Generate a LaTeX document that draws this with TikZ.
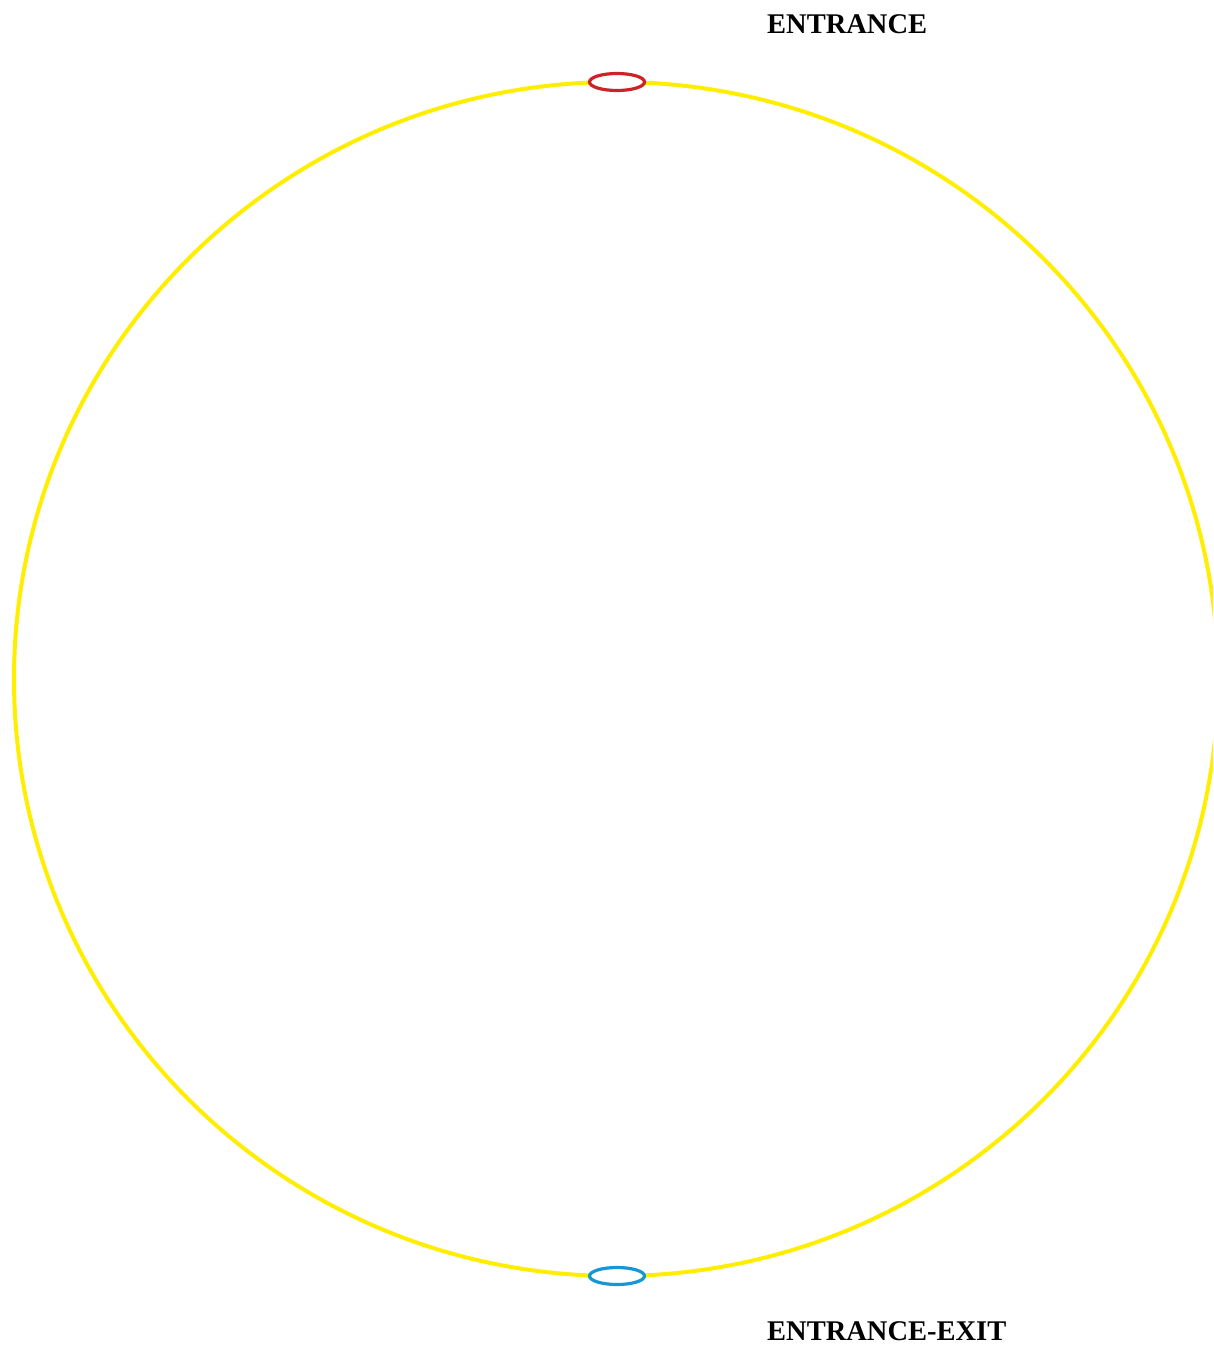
\documentclass[tikz,border=0pt]{standalone}
\usepackage{fontspec}
\setmainfont{Liberation Serif}
\definecolor{ringyellow}{RGB}{255,238,0}
\definecolor{entred}{RGB}{204,34,40}
\definecolor{exitblue}{RGB}{20,150,215}
\tikzset{
  ring/.style={draw=ringyellow, line width=4pt},
  portal/.style={line width=3.2pt, fill=none},
  label/.style={font=\bfseries\fontsize{28.5}{30}\selectfont, inner sep=0pt, anchor=base west}
}
\begin{document}
\begin{tikzpicture}[x=1pt,y=-1pt]
\useasboundingbox[fill=white] (0,0) rectangle (1213,1346);
\begin{scope}
\clip (0,0) rectangle (1213,1346);
\draw[ring] (616,679) ellipse [x radius=602, y radius=597];
\end{scope}
\coordinate (top) at (617,82);
\coordinate (bottom) at (617,1276);
\draw[portal, draw=entred, fill=white] (top) ellipse [x radius=27.5, y radius=8.5];
\draw[portal, draw=exitblue, fill=white] (bottom) ellipse [x radius=27.5, y radius=8.5];
\node[label] (ent) at (767,34) {ENTRANCE};
\node[label] (entexit) at (767,1340) {ENTRANCE-EXIT};
\end{tikzpicture}
\end{document}
